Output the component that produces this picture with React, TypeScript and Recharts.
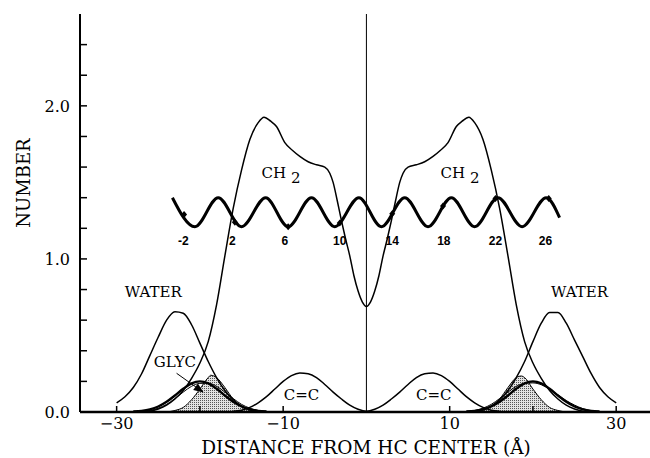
import React from 'react';
import { ComposedChart, Line, Area, Scatter, XAxis, YAxis, ReferenceLine } from 'recharts';

// x = distance from HC center (Å), y = number
const waterLeftX = [-30, -29, -28, -27, -26, -25, -24, -23, -22, -21, -20, -19, -18, -17, -16, -15, -14, -13, -12];
const waterLeftY = [0.06, 0.1, 0.16, 0.25, 0.37, 0.49, 0.6, 0.655, 0.645, 0.57, 0.45, 0.33, 0.225, 0.14, 0.08, 0.04, 0.018, 0.006, 0];
const waterRightX = [12, 13, 14, 15, 16, 17, 18, 19, 20, 21, 22, 23, 24, 25, 26, 27, 28, 29, 30];
const waterRightY = [0, 0.006, 0.018, 0.04, 0.08, 0.14, 0.225, 0.33, 0.46, 0.58, 0.65, 0.65, 0.58, 0.47, 0.36, 0.25, 0.16, 0.1, 0.06];

const ch2X = [
  -27, -26, -25, -24, -23, -22, -21, -20, -19, -18,
  -17, -16, -15, -14, -13, -12.3, -11.5, -10.8, -9.8, -8.9,
  -8, -7, -6, -5, -4.4, -4, -3.5, -3, -2.5, -2,
  -1.5, -1, -0.5, 0, 0.5, 1, 1.5, 2, 2.5, 3,
  3.5, 4, 4.4, 5, 6, 7, 8, 8.9, 9.8, 10.8,
  11.5, 12.3, 13, 14, 15, 16, 17, 18, 19, 20,
  21, 22, 23, 24, 25, 26, 27,
];
const ch2Y = [
  0, 0.005, 0.02, 0.045, 0.085, 0.14, 0.22, 0.32, 0.46, 0.7,
  1.02, 1.33, 1.58, 1.78, 1.89, 1.926, 1.9, 1.865, 1.76, 1.71,
  1.67, 1.635, 1.615, 1.6, 1.56, 1.5, 1.38, 1.25, 1.13, 1.02,
  0.89, 0.79, 0.72, 0.69, 0.72, 0.79, 0.89, 1.02, 1.13, 1.25,
  1.38, 1.5, 1.56, 1.6, 1.615, 1.635, 1.67, 1.71, 1.76, 1.865,
  1.9, 1.926, 1.89, 1.78, 1.58, 1.33, 1.02, 0.7, 0.46, 0.32,
  0.22, 0.14, 0.085, 0.045, 0.02, 0.005, 0,
];

const ccX = [-16, -15, -14, -13, -12, -11, -10, -9, -8, -7, -6, -5, -4, -3, -2, -1, 0, 1, 2, 3, 4, 5, 6, 7, 8, 9, 10, 11, 12, 13, 14, 15, 16];
const ccY = [
  0.005, 0.012, 0.03, 0.06, 0.1, 0.15, 0.2, 0.238, 0.255, 0.25, 0.225, 0.18, 0.13, 0.085, 0.045, 0.018, 0.005,
  0.018, 0.045, 0.085, 0.13, 0.18, 0.225, 0.25, 0.255, 0.238, 0.2, 0.15, 0.1, 0.06, 0.03, 0.012, 0.005,
];

// shaded headgroup peaks
const shadeLeftX = [-24, -23, -22, -21, -20, -19, -18.7, -18, -17, -16, -15, -14, -13];
const shadeLeftY = [0, 0.01, 0.03, 0.08, 0.15, 0.225, 0.24, 0.225, 0.16, 0.085, 0.035, 0.01, 0];
const shadeRightX = [13, 14, 15, 16, 17, 18, 18.6, 19, 20, 21, 22, 23, 24];
const shadeRightY = [0, 0.01, 0.035, 0.085, 0.16, 0.225, 0.235, 0.225, 0.15, 0.08, 0.03, 0.01, 0];

// glycerol (thick) and the thin companion curve
const glycLeftX = [-28, -27, -26, -25, -24, -23, -22, -21, -20, -19, -18, -17, -16, -15, -14, -13, -12];
const glycLeftY = [0.003, 0.007, 0.017, 0.036, 0.067, 0.108, 0.152, 0.187, 0.2, 0.187, 0.152, 0.108, 0.067, 0.036, 0.017, 0.007, 0.003];
const glycRightX = [12, 13, 14, 15, 16, 17, 18, 19, 20, 21, 22, 23, 24, 25, 26, 27, 28];
const glycRightY = [0.003, 0.007, 0.017, 0.036, 0.067, 0.108, 0.152, 0.187, 0.2, 0.187, 0.152, 0.108, 0.067, 0.036, 0.017, 0.007, 0.003];
const thinLeftX = [-27, -26, -25, -24, -23, -22, -21, -20, -19, -18, -17, -16, -15, -14, -13, -12];
const thinLeftY = [0.004, 0.01, 0.025, 0.05, 0.088, 0.13, 0.168, 0.187, 0.188, 0.168, 0.13, 0.088, 0.05, 0.025, 0.01, 0.004];
const thinRightX = [12, 13, 14, 15, 16, 17, 18, 19, 20, 21, 22, 23, 24, 25, 26, 27];
const thinRightY = [0.004, 0.01, 0.025, 0.05, 0.088, 0.13, 0.168, 0.187, 0.19, 0.178, 0.15, 0.112, 0.075, 0.045, 0.022, 0.008];

// chain "rope" drawn across the bilayer
const waveX = [-23.3, -20.6, -17.8, -15.0, -12.1, -9.4, -6.6, -3.8, -0.9, 1.8, 4.6, 7.4, 10.2, 13.0, 15.8, 18.7, 21.6, 23.2];
const waveY = [1.4, 1.21, 1.4, 1.21, 1.4, 1.21, 1.4, 1.21, 1.4, 1.21, 1.4, 1.21, 1.4, 1.21, 1.4, 1.21, 1.4, 1.27];
const markX = [-21.9, -15.8, -9.4, -3.2, 3.1, 9.2, 15.5, 21.9];
const markY = [1.29, 1.24, 1.21, 1.235, 1.295, 1.345, 1.395, 1.395];
const markLabel = ['-2', '2', '6', '10', '14', '18', '22', '26'];
const markLabelX = [-22.0, -16.1, -9.8, -3.2, 3.1, 9.3, 15.5, 21.5];
const markLabelY = 1.118;

const noteText = ['WATER', 'WATER', 'GLYC', 'C=C', 'C=C'];
const noteX = [-25.6, 25.6, -23.0, -7.8, 8.1];
const noteY = [0.786, 0.786, 0.327, 0.111, 0.111];
const ch2NoteX = [-12.6, 8.9];
const ch2NoteY = [1.56, 1.56];

const arrowX = [-22.8, -19.65];
const arrowY = [0.253, 0.131];

const xTicks = [-30, -20, -10, 10, 20, 30];
const xLabelled = [-30, -10, 10, 30];
const yTicks = [0, 0.2, 0.4, 0.6, 0.8, 1, 1.2, 1.4, 1.6, 1.8, 2, 2.2, 2.4];

const pts = (xs: number[], ys: number[]) => xs.map((x, i) => ({ x, y: ys[i] }));

const SERIF = '"DejaVu Serif", "Liberation Serif", serif';

const noteShape = (props: any) => {
  const { cx, cy, payload } = props;
  return (
    <text x={cx} y={cy} textAnchor="middle" dominantBaseline="central" fontFamily={SERIF} fontSize={15} fill="#000">
      {payload.t}
    </text>
  );
};

const ch2Shape = (props: any) => {
  const { cx, cy } = props;
  return (
    <text x={cx} y={cy} textAnchor="start" dominantBaseline="central" fontFamily={SERIF} fontSize={15} fill="#000">
      CH<tspan dx={5} dy={5}>2</tspan>
    </text>
  );
};

const markShape = (props: any) => {
  const { cx, cy } = props;
  return <polygon points={`${cx},${cy - 3.5} ${cx + 3},${cy} ${cx},${cy + 3.5} ${cx - 3},${cy}`} fill="#000" />;
};

const markLabelShape = (props: any) => {
  const { cx, cy, payload } = props;
  return (
    <text x={cx} y={cy} textAnchor="middle" dominantBaseline="central" fontFamily='"Liberation Sans", Arial, sans-serif' fontWeight="bold" fontSize={12} fill="#000">
      {payload.t}
    </text>
  );
};

const arrowDot = (props: any) => {
  const { cx, cy, index } = props;
  if (index !== 1) return <g key={`a${index}`} />;
  return <polygon key="ah" points="1,0 -9,-4 -9,4" fill="#000" transform={`translate(${cx},${cy}) rotate(36)`} />;
};

const yLabel = (v: number) => (Math.abs(v - Math.round(v)) < 1e-9 ? v.toFixed(1) : '');
const xLabel = (v: number) => (xLabelled.includes(v) ? (v < 0 ? `\u2212${Math.abs(v)}` : String(v)) : '');

const axisLine = { stroke: '#000', strokeWidth: 2 };
const tickLine = { stroke: '#000', strokeWidth: 1.5 };

export default function App() {
  const lineProps = {
    xAxisId: 'b',
    yAxisId: 'l',
    dataKey: 'y',
    type: 'monotone' as const,
    dot: false,
    stroke: '#000',
    strokeWidth: 1.5,
    isAnimationActive: false,
  };

  return (
    <div style={{ position: 'absolute', left: 0, top: 0, width: 650, height: 458, overflow: 'hidden', background: '#fff' }}>
      <ComposedChart width={652} height={458} margin={{ top: 14, right: 0, bottom: 0, left: 0 }}>
        <defs>
          <pattern id="stipple" width="2" height="2" patternUnits="userSpaceOnUse">
            <rect width="2" height="2" fill="#e2e2e2" />
            <rect width="1" height="1" fill="#555" />
          </pattern>
        </defs>
        <XAxis
          xAxisId="b"
          type="number"
          dataKey="x"
          domain={[-34.4, 34.3]}
          allowDataOverflow
          ticks={xTicks}
          interval={0}
          tickFormatter={xLabel}
          height={46}
          tickSize={-6}
          tickMargin={12}
          axisLine={{ stroke: '#000', strokeWidth: 2.5 }}
          tickLine={tickLine}
          tick={{ fill: '#000', fontFamily: SERIF, fontSize: 16 }}
          label={{
            value: 'DISTANCE FROM HC CENTER (Å)',
            position: 'insideBottom',
            offset: 4,
            style: { fill: '#000', fontFamily: SERIF, fontSize: 18.5 },
          }}
        />
        <XAxis
          xAxisId="t"
          orientation="top"
          type="number"
          dataKey="x"
          domain={[-34.4, 34.3]}
          allowDataOverflow
          ticks={xTicks}
          interval={0}
          tickFormatter={() => ''}
          height={0}
          tickSize={-6}
          axisLine={axisLine}
          tickLine={tickLine}
        />
        <YAxis
          yAxisId="l"
          type="number"
          domain={[0, 2.6]}
          allowDataOverflow
          ticks={yTicks}
          interval={0}
          tickFormatter={yLabel}
          width={80}
          tickSize={-7}
          tickMargin={17}
          axisLine={axisLine}
          tickLine={tickLine}
          tick={{ fill: '#000', fontFamily: SERIF, fontSize: 16 }}
          label={{
            content: (p: any) => {
              const vb = p.viewBox || { x: 0, y: 14, height: 398 };
              const lx = vb.x + 23;
              const ly = vb.y + vb.height / 2 - 30;
              return (
                <text x={lx} y={ly} transform={`rotate(-90 ${lx} ${ly})`} textAnchor="middle" dominantBaseline="central" fontFamily={SERIF} fontSize={18} fill="#000">
                  NUMBER
                </text>
              );
            },
          }}
        />
        <YAxis
          yAxisId="r"
          orientation="right"
          type="number"
          domain={[0, 2.6]}
          allowDataOverflow
          ticks={yTicks}
          interval={0}
          tickFormatter={() => ''}
          width={0}
          tickSize={-7}
          axisLine={axisLine}
          tickLine={tickLine}
        />

        <ReferenceLine xAxisId="b" yAxisId="l" x={0} stroke="#000" strokeWidth={1} />

        <Area xAxisId="b" yAxisId="l" data={pts(shadeLeftX, shadeLeftY)} dataKey="y" type="monotone" fill="url(#stipple)" fillOpacity={1} stroke="#000" strokeWidth={1} isAnimationActive={false} />
        <Area xAxisId="b" yAxisId="l" data={pts(shadeRightX, shadeRightY)} dataKey="y" type="monotone" fill="url(#stipple)" fillOpacity={1} stroke="#000" strokeWidth={1} isAnimationActive={false} />

        <Line {...lineProps} data={pts(waterLeftX, waterLeftY)} />
        <Line {...lineProps} data={pts(waterRightX, waterRightY)} />
        <Line {...lineProps} data={pts(ch2X, ch2Y)} />
        <Line {...lineProps} data={pts(ccX, ccY)} />
        <Line {...lineProps} data={pts(thinLeftX, thinLeftY)} strokeWidth={1} />
        <Line {...lineProps} data={pts(thinRightX, thinRightY)} strokeWidth={1} />
        <Line {...lineProps} data={pts(glycLeftX, glycLeftY)} strokeWidth={2.4} />
        <Line {...lineProps} data={pts(glycRightX, glycRightY)} strokeWidth={2.4} />
        <Line {...lineProps} data={pts(waveX, waveY)} strokeWidth={3} />
        <Line {...lineProps} type="linear" data={pts(arrowX, arrowY)} strokeWidth={1} dot={arrowDot} />

        <Scatter xAxisId="b" yAxisId="l" dataKey="y" data={pts(markX, markY)} shape={markShape} isAnimationActive={false} />
        <Scatter xAxisId="b" yAxisId="l" dataKey="y" data={markLabelX.map((x, i) => ({ x, y: markLabelY, t: markLabel[i] }))} shape={markLabelShape} isAnimationActive={false} />
        <Scatter xAxisId="b" yAxisId="l" dataKey="y" data={noteX.map((x, i) => ({ x, y: noteY[i], t: noteText[i] }))} shape={noteShape} isAnimationActive={false} />
        <Scatter xAxisId="b" yAxisId="l" dataKey="y" data={pts(ch2NoteX, ch2NoteY)} shape={ch2Shape} isAnimationActive={false} />
      </ComposedChart>
    </div>
  );
}
